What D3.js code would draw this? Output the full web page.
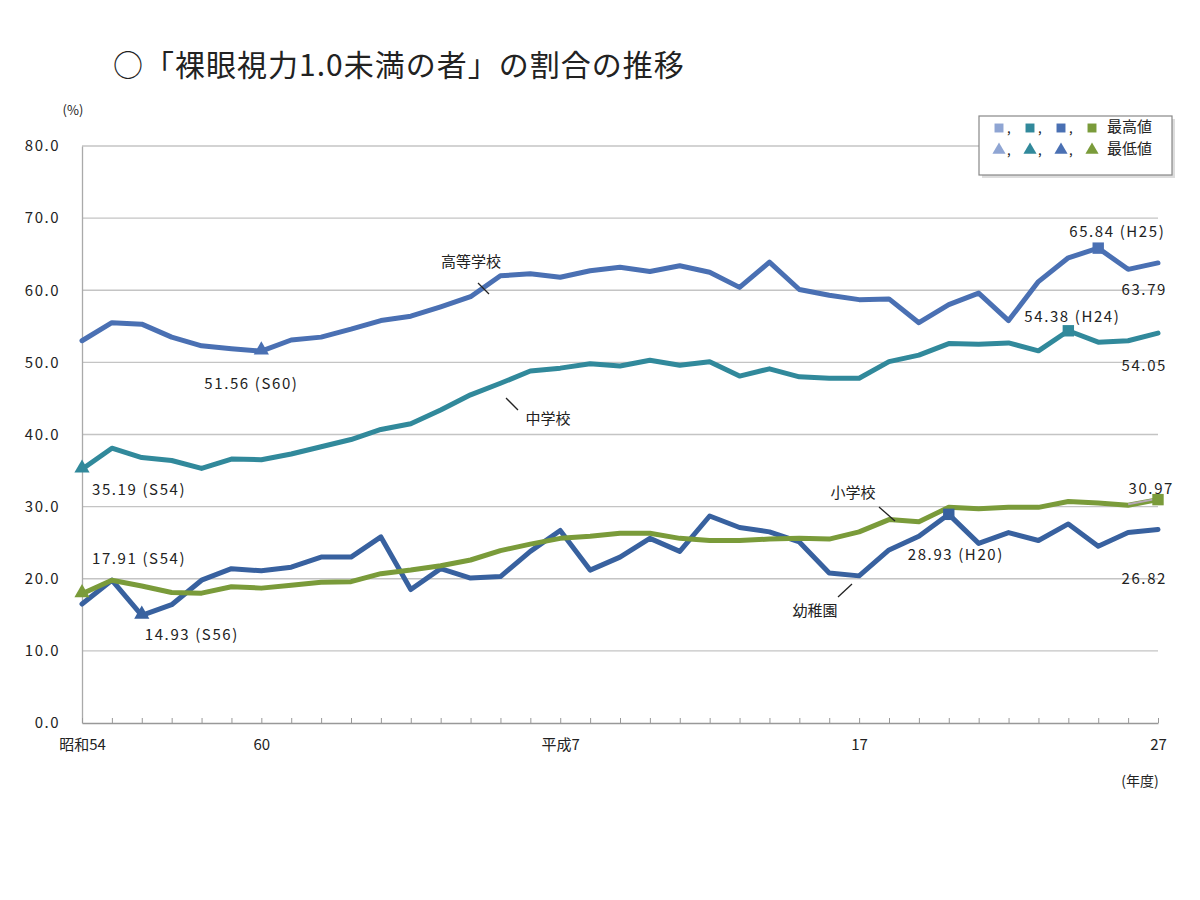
<!DOCTYPE html>
<html>
<head>
<meta charset="utf-8">
<script src="https://cdn.jsdelivr.net/npm/d3@7"></script>
<style>
  body { margin: 0; background: #fff; }
  text { font-family: "Noto Sans CJK JP", "Noto Sans", sans-serif; fill: #222; }
</style>
</head>
<body>
<script>
// school years 昭和54 (1979) .. 平成27 (2015)
var years = [1979, 1980, 1981, 1982, 1983, 1984, 1985, 1986, 1987, 1988,
    1989, 1990, 1991, 1992, 1993, 1994, 1995, 1996, 1997, 1998,
    1999, 2000, 2001, 2002, 2003, 2004, 2005, 2006, 2007, 2008,
    2009, 2010, 2011, 2012, 2013, 2014, 2015];
var labelYears = [1979, 1985, 1995, 2005, 2015];
var labelTexts = ["昭和54", "60", "平成7", "17", "27"];
var yTicks = [0, 10, 20, 30, 40, 50, 60, 70, 80];

var highSchool = [53.0, 55.5, 55.3, 53.5, 52.3, 51.9, 51.56, 53.1, 53.5, 54.6,
    55.8, 56.4, 57.7, 59.1, 62.0, 62.3, 61.8, 62.7, 63.2, 62.6,
    63.4, 62.5, 60.4, 63.9, 60.1, 59.3, 58.7, 58.8, 55.5, 58.0,
    59.6, 55.8, 61.2, 64.5, 65.84, 62.9, 63.79];
var middleSchool = [35.19, 38.1, 36.8, 36.4, 35.3, 36.6, 36.5, 37.3, 38.3, 39.3,
    40.7, 41.5, 43.4, 45.5, 47.1, 48.8, 49.2, 49.8, 49.5, 50.3,
    49.6, 50.1, 48.1, 49.1, 48.0, 47.8, 47.8, 50.1, 51.0, 52.6,
    52.5, 52.7, 51.6, 54.38, 52.8, 53.0, 54.05];
var kindergarten = [16.5, 19.8, 14.93, 16.4, 19.8, 21.4, 21.1, 21.6, 23.0, 23.0,
    25.8, 18.5, 21.4, 20.1, 20.3, 23.8, 26.7, 21.2, 23.0, 25.6,
    23.8, 28.7, 27.1, 26.5, 25.1, 20.8, 20.4, 24.0, 25.9, 28.93,
    24.9, 26.4, 25.3, 27.6, 24.5, 26.4, 26.82];
var elementary = [17.91, 19.8, 19.0, 18.1, 18.0, 18.9, 18.7, 19.1, 19.5, 19.6,
    20.7, 21.2, 21.8, 22.6, 23.9, 24.8, 25.6, 25.9, 26.3, 26.3,
    25.6, 25.3, 25.3, 25.5, 25.6, 25.5, 26.5, 28.2, 27.9, 29.9,
    29.7, 29.9, 29.9, 30.7, 30.5, 30.2, 30.97];

var colors = { high: "#4a70b3", middle: "#31899b", kinder: "#38619f", elem: "#7a9b3a", pale: "#8fa5d3" };

var width = 1200, height = 900;
var plotLeft = 82, plotRight = 1158, plotTop = 146, plotBottom = 723;

var svg = d3.select("body").append("svg")
    .attr("width", width)
    .attr("height", height);

var x = d3.scalePoint().domain(years).range([plotLeft, plotRight]);
var y = d3.scaleLinear().domain([0, 80]).range([plotBottom, plotTop]);

// title
svg.append("text")
    .attr("x", 113).attr("y", 68)
    .attr("dominant-baseline", "middle")
    .attr("font-size", 30)
    .attr("letter-spacing", 1)
    .text("○「裸眼視力1.0未満の者」の割合の推移");

svg.append("text")
    .attr("x", 73).attr("y", 111)
    .attr("text-anchor", "middle")
    .attr("dominant-baseline", "middle")
    .attr("font-size", 13)
    .text("(%)");

// gridlines
svg.append("g").selectAll("line")
    .data(yTicks.filter(d => d > 0))
    .enter().append("line")
    .attr("x1", plotLeft).attr("x2", plotRight)
    .attr("y1", d => y(d)).attr("y2", d => y(d))
    .attr("stroke", "#c4c4c4")
    .attr("stroke-width", 1.3);

// y axis
var yAxis = svg.append("g")
    .attr("transform", `translate(${plotLeft},0)`)
    .call(d3.axisLeft(y).tickValues(yTicks).tickSize(0).tickPadding(22).tickFormat(d3.format(".1f")));
yAxis.select(".domain").attr("stroke", "#aaa").attr("stroke-width", 1.3);
yAxis.selectAll("text").attr("font-size", 15).attr("fill", "#222")
    .attr("letter-spacing", 1.5)
    .attr("font-family", "'Noto Sans CJK JP', sans-serif");

// x axis
var xAxis = svg.append("g")
    .attr("transform", `translate(0,${plotBottom})`)
    .call(d3.axisBottom(x).tickSizeInner(-5).tickSizeOuter(0).tickPadding(16)
        .tickFormat(d => { var i = labelYears.indexOf(d); return i >= 0 ? labelTexts[i] : ""; }));
xAxis.select(".domain").attr("stroke", "#999").attr("stroke-width", 1.3);
xAxis.selectAll(".tick line").attr("stroke", "#999");
xAxis.selectAll("text").attr("font-size", 15).attr("fill", "#222")
    .attr("font-family", "'Noto Sans CJK JP', sans-serif");

svg.append("text")
    .attr("x", 1140).attr("y", 782)
    .attr("text-anchor", "middle")
    .attr("dominant-baseline", "middle")
    .attr("font-size", 14)
    .text("(年度)");

// lines
var line = d3.line()
    .x((d, i) => x(years[i]))
    .y(d => y(d));

var series = [
    { values: highSchool, color: colors.high },
    { values: middleSchool, color: colors.middle },
    { values: kindergarten, color: colors.kinder },
    { values: elementary, color: colors.elem }
];

svg.append("g").selectAll("path")
    .data(series)
    .enter().append("path")
    .attr("d", d => line(d.values))
    .attr("fill", "none")
    .attr("stroke", d => d.color)
    .attr("stroke-width", 5)
    .attr("stroke-linejoin", "round")
    .attr("stroke-linecap", "round");

// thin pale segment at the end of 小学校
var n = years.length;
svg.append("line")
    .attr("x1", x(years[n - 2])).attr("y1", y(elementary[n - 2]) - 1)
    .attr("x2", x(years[n - 1])).attr("y2", y(elementary[n - 1]) - 1)
    .attr("stroke", "#b4a6b4").attr("stroke-width", 2);

// markers: highest (square) and lowest (triangle)
var tri = d3.symbol().type(d3.symbolTriangle).size(100);
var sq = d3.symbol().type(d3.symbolSquare).size(130);

series.forEach(s => {
    var iMax = d3.maxIndex(s.values), iMin = d3.minIndex(s.values);
    svg.append("path").attr("d", sq())
        .attr("transform", `translate(${x(years[iMax])},${y(s.values[iMax])})`)
        .attr("fill", s.color);
    svg.append("path").attr("d", tri())
        .attr("transform", `translate(${x(years[iMin])},${y(s.values[iMin]) - 1})`)
        .attr("fill", s.color);
});

// value annotations
function note(xx, yy, txt, anchor) {
    svg.append("text")
        .attr("x", xx).attr("y", yy)
        .attr("text-anchor", anchor || "start")
        .attr("dominant-baseline", "middle")
        .attr("font-size", 15)
        .attr("letter-spacing", 1.6)
        .text(txt);
}
note(x(1985) - 57, y(51.56) + 34, "51.56 (S60)");
note(x(1979) + 10, y(35.19) + 22, "35.19 (S54)");
note(x(1979) + 10, y(17.91) - 34, "17.91 (S54)");
note(x(1981) + 3, y(14.93) + 21, "14.93 (S56)");
note(x(2013) - 29, y(65.84) - 15, "65.84 (H25)");
note(x(2012) - 44, y(54.38) - 13, "54.38 (H24)");
note(x(2008) - 41, y(28.93) + 42, "28.93 (H20)");
note(x(2015) + 9, y(63.79) + 28, "63.79", "end");
note(x(2015) + 9, y(54.05) + 34, "54.05", "end");
note(x(2015) + 9, y(26.82) + 50, "26.82", "end");
note(x(2015) + 16, y(30.97) - 10, "30.97", "end");

// series names with leader lines
var names = [
    { t: "高等学校", tx: 471, ty: 263, l: [478, 283, 489, 294] },
    { t: "中学校", tx: 548, ty: 420, l: [506, 398, 518, 410] },
    { t: "小学校", tx: 853, ty: 494, l: [879, 507, 895, 521] },
    { t: "幼稚園", tx: 815, ty: 612, l: [838, 597, 852, 584] }
];
names.forEach(d => {
    svg.append("text")
        .attr("x", d.tx).attr("y", d.ty)
        .attr("text-anchor", "middle")
        .attr("dominant-baseline", "middle")
        .attr("font-size", 15)
        .text(d.t);
    svg.append("line")
        .attr("x1", d.l[0]).attr("y1", d.l[1])
        .attr("x2", d.l[2]).attr("y2", d.l[3])
        .attr("stroke", "#222").attr("stroke-width", 1.3);
});

// legend
var legend = svg.append("g");
legend.append("rect")
    .attr("x", 982).attr("y", 119).attr("width", 193).attr("height", 59)
    .attr("fill", "#ddd");
legend.append("rect")
    .attr("x", 979).attr("y", 116).attr("width", 193).attr("height", 59)
    .attr("fill", "#fff").attr("stroke", "#888").attr("stroke-width", 1.2);

var legendColors = [colors.pale, colors.middle, colors.high, colors.elem];
var legendX = [999, 1030, 1061, 1092];
var lsq = d3.symbol().type(d3.symbolSquare).size(80);
var ltri = d3.symbol().type(d3.symbolTriangle).size(75);
legendColors.forEach((c, i) => {
    legend.append("path").attr("d", lsq())
        .attr("transform", `translate(${legendX[i]},128)`).attr("fill", c);
    legend.append("path").attr("d", ltri())
        .attr("transform", `translate(${legendX[i]},150)`).attr("fill", c);
    if (i < 3) {
        legend.append("text").attr("x", legendX[i] + 8).attr("y", 133)
            .attr("font-size", 13).text(",");
        legend.append("text").attr("x", legendX[i] + 8).attr("y", 155)
            .attr("font-size", 13).text(",");
    }
});
legend.append("text").attr("x", 1107).attr("y", 128)
    .attr("dominant-baseline", "middle").attr("font-size", 15).text("最高値");
legend.append("text").attr("x", 1107).attr("y", 150)
    .attr("dominant-baseline", "middle").attr("font-size", 15).text("最低値");
</script>
</body>
</html>
